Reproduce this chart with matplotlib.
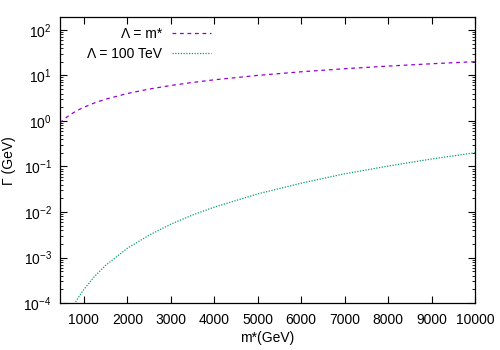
import matplotlib
matplotlib.use("Agg")
import matplotlib.pyplot as plt
from matplotlib.ticker import LogLocator, FixedLocator

plt.rcParams['font.family'] = ['Liberation Sans', 'DejaVu Sans']
plt.rcParams['mathtext.default'] = 'regular'

# m* values (GeV)
mass = [450, 500, 600, 700, 800, 900, 1000, 1250, 1500, 2000, 2500, 3000, 3500, 4000,
        5000, 6000, 7000, 8000, 9000, 10000]
# width for Lambda = m*
gamma_lam_m = [0.9, 1.0, 1.2, 1.4, 1.6, 1.8, 2.0, 2.5, 3.0, 4.0, 5.0, 6.0, 7.0, 8.0,
               10.0, 12.0, 14.0, 16.0, 18.0, 20.0]
# width for Lambda = 100 TeV
gamma_lam_100 = [1.8e-5, 2.5e-5, 4.3e-5, 6.9e-5, 1.02e-4, 1.46e-4, 2.0e-4, 3.9e-4,
                 6.75e-4, 1.6e-3, 3.1e-3, 5.4e-3, 8.6e-3, 1.28e-2,
                 2.5e-2, 4.3e-2, 6.9e-2, 0.102, 0.146, 0.2]

labels = ['Λ = m*', 'Λ = 100 TeV']
xticks = [1000, 2000, 3000, 4000, 5000, 6000, 7000, 8000, 9000, 10000]
yticks = [1e-4, 1e-3, 1e-2, 1e-1, 1e0, 1e1, 1e2]

fig = plt.figure(figsize=(5, 3.5), dpi=100)
ax = fig.add_axes([0.12, 0.134, 0.83, 0.817])

ax.plot(mass, gamma_lam_m, color='#9400d3', lw=0.9, ls=(0, (3, 3)), label=labels[0])
ax.plot(mass, gamma_lam_100, color='#009e73', lw=0.9, ls=(0, (1, 1.2)), label=labels[1])

ax.set_yscale('log')
ax.set_xlim(450, 10000)
ax.set_ylim(1e-4, 190)
ax.xaxis.set_major_locator(FixedLocator(xticks))
ax.yaxis.set_major_locator(FixedLocator(yticks))
ax.yaxis.set_minor_locator(LogLocator(base=10, subs=range(2, 10), numticks=10))
ax.yaxis.set_minor_formatter(plt.NullFormatter())

ax.tick_params(which='both', direction='in', top=True, right=True, labelsize=10)
ax.tick_params(which='major', length=5)
ax.tick_params(which='minor', length=2.5)
ax.tick_params(axis='x', which='major', pad=7)
ax.tick_params(axis='y', which='major', pad=6)
for s in ax.spines.values():
    s.set_linewidth(0.9)

ax.set_xlabel('m*(GeV)', fontsize=10, labelpad=3)
ax.set_ylabel('Γ (GeV)', fontsize=10, labelpad=5)

ax.legend(loc='upper left', frameon=False, markerfirst=False, fontsize=10,
          handlelength=2.8, handletextpad=0.7, bbox_to_anchor=(0.035, 1.01),
          labelspacing=0.45)

fig.savefig('out.png', dpi=100)
